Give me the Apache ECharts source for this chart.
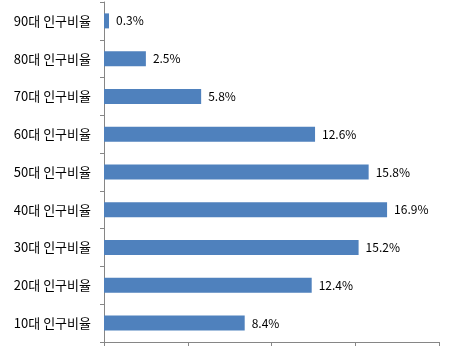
<!DOCTYPE html>
<html>
<head>
<meta charset="utf-8">
<script src="https://cdn.jsdelivr.net/npm/echarts@6/dist/echarts.min.js"></script>
<style>
html, body { margin: 0; padding: 0; background: #fff; }
#chart { width: 457px; height: 353px; }
</style>
</head>
<body>
<div id="chart"></div>
<script>
// bottom to top, like the picture
const categories = ['10대 인구비율', '20대 인구비율', '30대 인구비율', '40대 인구비율', '50대 인구비율',
  '60대 인구비율', '70대 인구비율', '80대 인구비율', '90대 인구비율']
const values = [8.4, 12.4, 15.2, 16.9, 15.8, 12.6, 5.8, 2.5, 0.3]

const font = '"Noto Sans CJK KR", "Noto Sans", sans-serif'
const chart = echarts.init(document.getElementById('chart'))

chart.setOption({
  animation: false,
  grid: { left: 104, top: 2, width: 335, height: 340, containLabel: false },
  xAxis: {
    type: 'value',
    min: 0,
    max: 20,
    interval: 5,
    axisLine: { show: true, lineStyle: { color: '#868686', width: 1 } },
    axisTick: { show: true, length: 4, lineStyle: { color: '#868686' } },
    axisLabel: { show: false },
    splitLine: { show: false }
  },
  yAxis: {
    type: 'category',
    data: categories,
    axisLine: { show: true, lineStyle: { color: '#868686', width: 1 } },
    axisTick: { show: true, length: 4, alignWithLabel: false, lineStyle: { color: '#868686' } },
    axisLabel: { color: '#000', fontSize: 13, fontFamily: font, margin: 13 }
  },
  series: [{
    type: 'bar',
    data: values,
    barWidth: 15,
    itemStyle: { color: '#4F81BD' },
    label: {
      show: true,
      position: 'right',
      distance: 7,
      color: '#000',
      fontSize: 12,
      fontFamily: font,
      formatter: (p) => p.value.toFixed(1) + '%'
    }
  }]
})
</script>
</body>
</html>
